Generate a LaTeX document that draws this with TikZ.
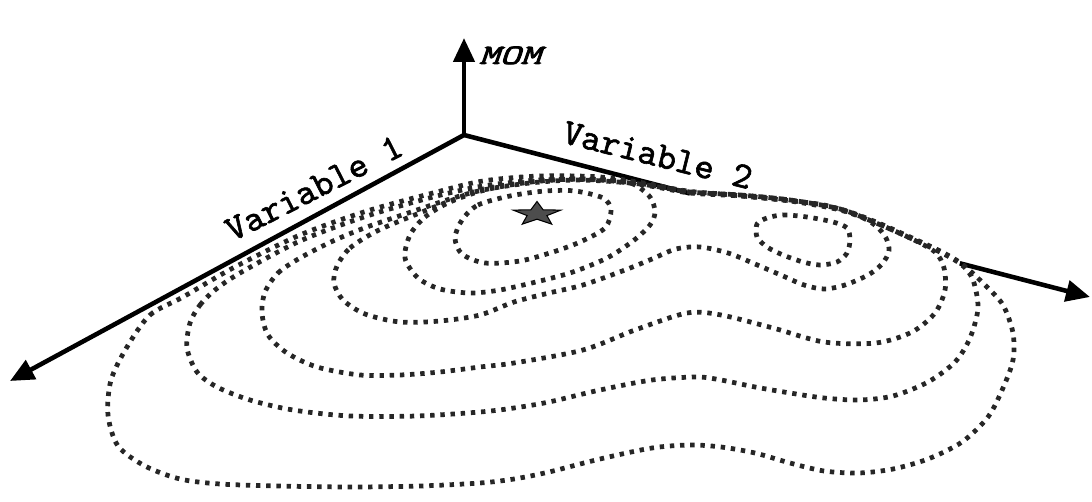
\documentclass[tikz,border=0pt]{standalone}
\usepackage{fontspec}
\newfontfamily\courfont{lmmono10-regular.otf}[FakeBold=1.6]
\newfontfamily\momfont{lmmono10-italic.otf}[FakeBold=2.5]
\usetikzlibrary{shapes.geometric,calc,arrows.meta}
\definecolor{dotgray}{HTML}{262626}
\definecolor{stargray}{HTML}{4D4D4D}

\begin{document}
\begin{tikzpicture}[
    x=0.02cm, y=-0.02cm,
    >={Triangle[length=0.48cm,width=0.42cm]},
    axis/.style={line width=2.6pt},
    contour/.style={draw=dotgray, line width=2.7pt, dash pattern=on 2.5pt off 3.3pt},
    axlabel/.style={font=\fontsize{21}{22}\selectfont\courfont, anchor=base, inner sep=0pt},
    optstar/.style={star, star points=5, star point ratio=2.4, minimum size=1cm, inner sep=0pt,
        fill=stargray, draw=black, line width=0.6pt}
]
\useasboundingbox (0,0) rectangle (1092,502);

% axes
\coordinate (O) at (464,135);
\coordinate (mom) at (464,38);
\coordinate (var1) at (10,381);
\coordinate (var2) at (1090,297);
\draw[axis,->] (O) -- (mom);
\draw[axis,->] (O) -- (var1);
\draw[axis] (O) -- ($(O)!0.361!(var2)$);
\draw[axis,->] ($(O)!0.792!(var2)$) -- (var2);

\node[font=\fontsize{16}{17}\selectfont\momfont, anchor=base, inner sep=0pt] (momlabel) at (510,64) {\scalebox{1.4}[1]{MOM}};
\node[axlabel, rotate=27] (v1label) at (319,198) {Variable 1};
\node[axlabel, rotate=-14] (v2label) at (655,166) {Variable 2};

% contour lines
\draw[contour] plot[smooth cycle] coordinates {(127,347) (150,315) (183,297) (233,268) (300,235) (367,211) (433,193) (483,181) (540,176) (600,177) (650,184) (690,192) (740,195) (790,200) (840,209) (876,222) (910,237) (940,251) (962,264) (985,285) (1003,305) (1013,333) (1013,360) (1003,388) (988,417) (962,442) (928,459) (893,469) (859,473) (824,471) (790,463) (755,453) (721,447) (690,445) (652,448) (600,459) (549,472) (514,479) (480,483) (420,486) (350,487) (280,486) (220,484) (180,479) (145,466) (118,446) (108,415) (111,380)};
\draw[contour] plot[smooth cycle] coordinates {(190,323) (200,305) (215,290) (240,273) (300,241) (367,216) (433,197) (483,186) (540,180) (600,180) (650,186) (690,193) (740,196) (790,201) (840,210) (876,223) (910,238) (940,252) (962,265) (973,280) (978,308) (970,338) (955,362) (928,382) (893,396) (859,400) (824,398) (790,393) (755,387) (721,380) (697,377) (652,380) (600,390) (549,402) (514,408) (480,412) (417,416) (350,416) (293,410) (250,400) (217,387) (197,372) (187,348)};
\draw[contour] plot[smooth cycle] coordinates {(265,292) (278,273) (300,258) (333,241) (367,227) (417,210) (450,199) (483,190) (530,183) (580,180) (640,184) (690,192) (740,195) (790,200) (840,209) (876,223) (910,238) (935,252) (944,268) (945,290) (935,313) (912,332) (876,343) (824,342) (773,328) (721,315) (687,313) (635,330) (583,350) (514,363) (480,367) (440,372) (400,375) (360,375) (317,367) (287,353) (268,335) (262,313)};
\draw[contour] plot[smooth cycle] coordinates {(337,266) (350,248) (377,231) (417,214) (450,201) (483,189) (530,182) (580,179) (630,182) (687,191) (721,194) (773,199) (824,205) (859,216) (876,226) (886,238) (889,251) (882,264) (868,275) (845,285) (824,289) (804,285) (783,276) (755,264) (728,253) (700,247) (676,249) (652,259) (625,270) (583,285) (549,293) (514,302) (480,315) (440,321) (400,322) (365,314) (343,300) (334,283)};
\draw[contour] plot[smooth cycle] coordinates {(410,235) (425,217) (450,202) (485,190) (530,182) (570,179) (607,180) (633,184) (650,197) (655,212) (650,225) (633,241) (607,258) (573,272) (540,281) (500,290) (470,293) (440,289) (418,278) (405,258)};
\draw[contour] plot[smooth cycle] coordinates {(462,220) (478,205) (510,196) (545,191) (575,191) (603,198) (611,210) (605,228) (580,242) (553,252) (520,261) (485,263) (462,254) (455,238)};
\draw[contour] plot[smooth cycle] coordinates {(767,218) (783,215) (807,217) (833,222) (847,228) (850,240) (847,253) (837,262) (820,265) (803,262) (783,255) (767,247) (757,237) (757,224)};

% optimum
\begin{scope}[shift={(537,214)}, yscale=0.5]
\node[optstar, transform shape] (opt) {};
\end{scope}
\end{tikzpicture}
\end{document}
